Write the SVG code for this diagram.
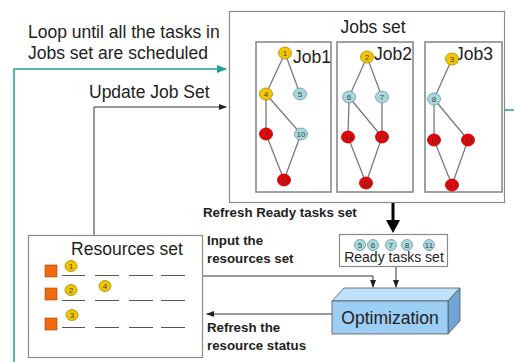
<svg xmlns="http://www.w3.org/2000/svg" width="514" height="362" viewBox="0 0 514 362">
<defs>
<style>
.big{font-family:"Liberation Sans",Arial,sans-serif;font-size:17.5px;fill:#222}
.sm{font-family:"Liberation Sans",Arial,sans-serif;font-size:13.3px;font-weight:bold;fill:#222}
.box{fill:#fff;stroke:#8a8a8a;stroke-width:1.2}
.jbox{fill:#fff;stroke:#8a8a8a;stroke-width:1.6}
.edge{stroke:#7a7a7a;stroke-width:1.3;fill:none}
.y{fill:#f2c500;stroke:#a88a00;stroke-width:0.8}
.b{fill:#a6d8de;stroke:#6a9aa2;stroke-width:0.8}
.r{fill:#ee0000;stroke:#a00000;stroke-width:0.8}
.n{font-family:"Liberation Sans",Arial,sans-serif;font-size:8px;fill:#444;text-anchor:middle}
.line{stroke:#333;stroke-width:1;fill:none}
.teal{stroke:#1f9f9f;stroke-width:1.5;fill:none}
.sq{fill:#f26a10;stroke:#a04000;stroke-width:0.6}
.rl{stroke:#555;stroke-width:1}
</style>
<marker id="ah" markerWidth="8" markerHeight="6" refX="7" refY="3" orient="auto" markerUnits="userSpaceOnUse"><path d="M0,0 L8,3 L0,6 z" fill="#222"/></marker>
<marker id="at" markerWidth="10" markerHeight="8" refX="9" refY="4" orient="auto" markerUnits="userSpaceOnUse"><path d="M0,0 L10,4 L0,8 z" fill="#1f9f9f"/></marker>
<marker id="ab" markerWidth="12" markerHeight="12" refX="6" refY="11" orient="auto" markerUnits="userSpaceOnUse"><path d="M0,0 L12,0 L6,12 z" fill="#000"/></marker>
</defs>

<g id="connectors">
<polyline class="teal" points="14,362 14,69 226,69" marker-end="url(#at)"/>
<line class="teal" x1="505" y1="110" x2="514" y2="110"/>
<polyline class="line" points="94,235 94,107 226,107" marker-end="url(#ah)"/>
<line x1="393" y1="203" x2="393" y2="221" stroke="#000" stroke-width="3"/>
<path d="M386,220 L400,220 L393,233 z" fill="#000"/>
<polyline class="line" points="202,276 373,276 373,287" marker-end="url(#ah)"/>
<line class="line" x1="396" y1="267" x2="396" y2="287" marker-end="url(#ah)"/>
<line class="line" x1="332" y1="314" x2="207" y2="314" marker-end="url(#ah)"/>
</g>

<g id="labels">
<text class="big" x="28" y="38">Loop until all the tasks in</text>
<text class="big" x="28" y="59">Jobs set are scheduled</text>
<text class="big" x="89" y="98">Update Job Set</text>
<text class="sm" x="203" y="217">Refresh Ready tasks set</text>
<text class="sm" x="207" y="245">Input the</text>
<text class="sm" x="207" y="263">resources set</text>
<text class="sm" x="207" y="332">Refresh the</text>
<text class="sm" x="207" y="350">resource status</text>
</g>

<g id="jobs-set">
<rect class="box" x="229.5" y="11.5" width="275" height="191"/>
<text class="big" x="373" y="33" text-anchor="middle">Jobs set</text>
</g>

<g id="job1">
<rect class="jbox" x="256" y="42" width="75" height="150"/>
<text class="big" x="293" y="63">Job1</text>
<path class="edge" d="M285,53 L266,94 M285,53 L300,94 M266,94 L266,134 M266,94 L301,134 M266,134 L284,180 M301,134 L284,180"/>
<ellipse class="y" cx="285" cy="53" rx="6.5" ry="6"/><text class="n" x="285" y="56">1</text>
<ellipse class="y" cx="266" cy="94" rx="6.5" ry="6"/><text class="n" x="266" y="97">4</text>
<ellipse class="b" cx="300" cy="94" rx="6.5" ry="6"/><text class="n" x="300" y="97">5</text>
<ellipse class="r" cx="266" cy="134" rx="6.5" ry="6"/><text class="n" x="266" y="137">9</text>
<ellipse class="b" cx="301" cy="134" rx="6.5" ry="6"/><text class="n" x="301" y="137">10</text>
<ellipse class="r" cx="284" cy="180" rx="6.5" ry="6"/><text class="n" x="284" y="183">15</text>
</g>

<g id="job2">
<rect class="jbox" x="337" y="42" width="76" height="150"/>
<text class="big" x="374" y="60">Job2</text>
<path class="edge" d="M367,57 L349,97 M367,57 L382,97 M349,97 L348,137 M349,97 L382,137 M382,97 L382,137 M348,137 L366,183 M382,137 L366,183"/>
<ellipse class="y" cx="367" cy="57" rx="6.5" ry="6"/><text class="n" x="367" y="60">2</text>
<ellipse class="b" cx="349" cy="97" rx="6.5" ry="6"/><text class="n" x="349" y="100">6</text>
<ellipse class="b" cx="382" cy="97" rx="6.5" ry="6"/><text class="n" x="382" y="100">7</text>
<ellipse class="r" cx="348" cy="137" rx="6.5" ry="6"/><text class="n" x="348" y="140">11</text>
<ellipse class="r" cx="382" cy="137" rx="6.5" ry="6"/><text class="n" x="382" y="140">12</text>
<ellipse class="r" cx="366" cy="183" rx="6.5" ry="6"/><text class="n" x="366" y="186">16</text>
</g>

<g id="job3">
<rect class="jbox" x="425" y="42" width="77" height="150"/>
<text class="big" x="455" y="60">Job3</text>
<path class="edge" d="M452,59 L434,99 M434,99 L434,140 M434,99 L468,140 M434,140 L452,185 M468,140 L452,185"/>
<ellipse class="y" cx="452" cy="59" rx="6.5" ry="6"/><text class="n" x="452" y="62">3</text>
<ellipse class="b" cx="434" cy="99" rx="6.5" ry="6"/><text class="n" x="434" y="102">8</text>
<ellipse class="r" cx="434" cy="140" rx="6.5" ry="6"/><text class="n" x="434" y="143">13</text>
<ellipse class="r" cx="468" cy="140" rx="6.5" ry="6"/><text class="n" x="468" y="143">14</text>
<ellipse class="r" cx="452" cy="185" rx="6.5" ry="6"/><text class="n" x="452" y="188">17</text>
</g>

<g id="ready-tasks">
<rect class="box" x="339.5" y="234.5" width="108" height="32"/>
<ellipse class="b" cx="360" cy="245" rx="5.5" ry="5.5"/><text class="n" x="360" y="248">5</text>
<ellipse class="b" cx="373" cy="245" rx="5.5" ry="5.5"/><text class="n" x="373" y="248">6</text>
<ellipse class="b" cx="391" cy="245" rx="5.5" ry="5.5"/><text class="n" x="391" y="248">7</text>
<ellipse class="b" cx="407" cy="245" rx="5.5" ry="5.5"/><text class="n" x="407" y="248">8</text>
<ellipse class="b" cx="429" cy="245" rx="5.5" ry="5.5"/><text class="n" x="429" y="248">11</text>
<text class="big" x="394" y="262" text-anchor="middle" style="font-size:14px">Ready tasks set</text>
</g>

<g id="optimization">
<polygon points="332,301 344,288 460,288 448,301" fill="#bfe0fa" stroke="#555" stroke-width="0.8"/>
<polygon points="448,301 460,288 460,321 448,334" fill="#6fa6d6" stroke="#555" stroke-width="0.8"/>
<rect x="332" y="301" width="116" height="33" fill="#9ccdf4" stroke="#555" stroke-width="0.8"/>
<text class="big" x="390" y="324" text-anchor="middle">Optimization</text>
</g>

<g id="resources-set">
<rect class="box" x="28.5" y="235.5" width="174" height="122"/>
<text class="big" x="127" y="255" text-anchor="middle">Resources set</text>
<rect class="sq" x="45" y="265" width="12" height="12"/>
<rect class="sq" x="45" y="288" width="12" height="12"/>
<rect class="sq" x="45" y="318" width="12" height="12"/>
<path class="rl" d="M62,275.5 H85 M95,275.5 H119 M129,275.5 H153 M161,275.5 H185 M62,300.5 H85 M95,300.5 H119 M129,300.5 H153 M161,300.5 H185 M62,327.5 H85 M95,327.5 H119 M129,327.5 H153 M161,327.5 H185"/>
<ellipse class="y" cx="71" cy="266" rx="6" ry="5.5"/><text class="n" x="71" y="269">1</text>
<ellipse class="y" cx="71" cy="290" rx="6" ry="5.5"/><text class="n" x="71" y="293">2</text>
<ellipse class="y" cx="105" cy="286" rx="6" ry="5.5"/><text class="n" x="105" y="289">4</text>
<ellipse class="y" cx="72" cy="315" rx="6" ry="5.5"/><text class="n" x="72" y="318">3</text>
</g>
</svg>
